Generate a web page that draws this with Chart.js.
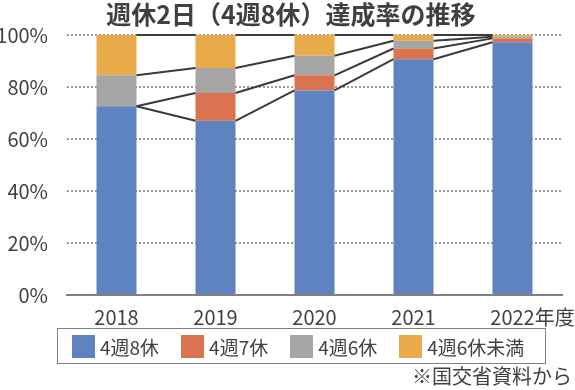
<!DOCTYPE html>
<html>
<head>
<meta charset="utf-8">
<script src="https://cdn.jsdelivr.net/npm/chart.js@4"></script>
<style>
  body { margin: 0; background: #fff; }
  #wrap { position: relative; width: 575px; height: 390px; font-family: "Noto Sans CJK JP", "Noto Sans", sans-serif; color: #404040; }
  #title { position: absolute; left: 0; top: -2px; width: 582px; text-align: center; font-size: 25px; font-weight: bold; line-height: 30px; white-space: nowrap; }
  #legend { position: absolute; left: 57px; top: 328px; width: 489px; height: 36px; box-sizing: border-box;
    border: 1.5px solid #7f7f7f; display: flex; align-items: center; padding-left: 14px; }
  .item { display: flex; align-items: center; flex-shrink: 0; white-space: nowrap; margin-right: 22px; font-size: 19px; line-height: 23px; }
  .sw { width: 23px; height: 23px; margin-right: 5px; flex-shrink: 0; }
  #note { position: absolute; right: 3px; top: 364px; font-size: 20px; line-height: 24px; white-space: nowrap; }
</style>
</head>
<body>
<div id="wrap">
  <canvas id="rateChart" width="575" height="390"></canvas>
  <div id="title">週休2日（4週8休）達成率の推移</div>
  <div id="legend"></div>
  <div id="note">※国交省資料から</div>
</div>
<script>
// ====== DATA ======
const years = ['2018', '2019', '2020', '2021', '2022'];
const yearSuffix = '年度';
const week8 = [72.6, 67.0, 78.7, 90.7, 97.2];   // 4週8休
const week7 = [0, 10.7, 5.8, 4.1, 1.5];         // 4週7休
const week6 = [11.9, 9.6, 7.5, 3.0, 0.6];       // 4週6休
const under6 = [15.5, 12.7, 8.0, 2.2, 0.7];     // 4週6休未満
const yTicks = [0, 20, 40, 60, 80, 100];

const FONT = '"Noto Sans CJK JP", "Noto Sans", sans-serif';
const TEXT = '#404040';

// series lines between neighbouring bars (Excel style)
const seriesLines = {
  id: 'seriesLines',
  afterDatasetsDraw(chart) {
    const ctx = chart.ctx;
    ctx.save();
    ctx.strokeStyle = '#3a3a3a';
    ctx.lineWidth = 2;
    chart.data.datasets.forEach((ds, d) => {
      const bars = chart.getDatasetMeta(d).data;
      for (let i = 0; i < bars.length - 1; i++) {
        const a = bars[i], b = bars[i + 1];
        ctx.beginPath();
        ctx.moveTo(a.x + a.width / 2, a.y);
        ctx.lineTo(b.x - b.width / 2, b.y);
        ctx.stroke();
      }
    });
    ctx.restore();
  }
};

// "年度" after the last year label
const yearUnit = {
  id: 'yearUnit',
  afterDraw(chart) {
    const scale = chart.scales.x;
    const items = scale.getLabelItems();
    const last = items[items.length - 1];
    if (!last) return;
    const ctx = chart.ctx;
    ctx.save();
    ctx.font = last.font.string;
    ctx.fillStyle = TEXT;
    ctx.textAlign = 'left';
    ctx.textBaseline = last.options.textBaseline;
    const w = ctx.measureText(String(last.label)).width;
    ctx.fillText(yearSuffix, last.options.translation[0] + w / 2, last.options.translation[1] + last.textOffset);
    ctx.restore();
  }
};

const chart = new Chart(document.getElementById('rateChart'), {
  type: 'bar',
  data: {
    labels: years,
    datasets: [
      { label: '4週8休', data: week8, backgroundColor: '#5F83C1' },
      { label: '4週7休', data: week7, backgroundColor: '#DC7350' },
      { label: '4週6休', data: week6, backgroundColor: '#A5A5A5' },
      { label: '4週6休未満', data: under6, backgroundColor: '#E9AA4A' }
    ]
  },
  options: {
    responsive: false,
    animation: false,
    barPercentage: 0.404,
    categoryPercentage: 1,
    layout: { padding: { left: 0, right: 13, top: 35, bottom: 59 } },
    plugins: {
      legend: { display: false },
      tooltip: { enabled: false }
    },
    scales: {
      x: {
        stacked: true,
        grid: { display: false },
        border: { color: '#808080', width: 2 },
        ticks: { color: TEXT, padding: 2, font: { family: FONT, size: 20 } }
      },
      y: {
        stacked: true,
        min: 0,
        max: 100,
        afterBuildTicks: s => { s.ticks = yTicks.map(v => ({ value: v })); },
        afterFit: s => { s.width = 67; },
        grid: {
          color: c => c.tick && c.tick.value === 0 ? 'rgba(0,0,0,0)' : '#9a9a9a',
          lineWidth: 2,
          drawTicks: false
        },
        border: { display: false, dash: [2, 2] },
        ticks: { color: TEXT, padding: 19, callback: v => v + '%', font: { family: FONT, size: 20 } }
      }
    }
  },
  plugins: [seriesLines, yearUnit]
});

// ====== HTML LEGEND ======
const legendBox = document.getElementById('legend');
chart.data.datasets.forEach(ds => {
  const item = document.createElement('div');
  item.className = 'item';
  const sw = document.createElement('span');
  sw.className = 'sw';
  sw.style.background = ds.backgroundColor;
  item.appendChild(sw);
  item.appendChild(document.createTextNode(ds.label));
  legendBox.appendChild(item);
});
</script>
</body>
</html>
